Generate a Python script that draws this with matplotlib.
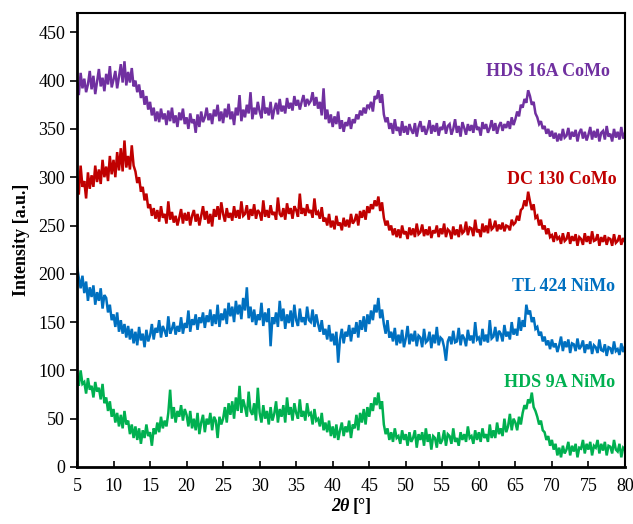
import numpy as np
import matplotlib.pyplot as plt

plt.rcParams['font.family'] = ['Liberation Serif', 'DejaVu Serif']

# 2-theta grid, 0.25 degree step from 5 to 80
two_theta = np.arange(5, 80.001, 0.25)

hds16a_como = [
    398, 385, 408, 392, 402, 388, 396, 410, 391, 405, 386, 399, 412, 394, 403, 389,
    407, 396, 415, 393, 401, 410, 392, 404, 417, 398, 420, 395, 409, 398, 413, 394,
    400, 388, 396, 382, 390, 375, 384, 370, 378, 364, 372, 358, 368, 357, 371, 360,
    366, 354, 369, 358, 372, 356, 364, 352, 367, 359, 371, 355, 362, 350, 366, 356,
    360, 346, 365, 352, 368, 357, 362, 372, 359, 366, 355, 370, 363, 375, 358, 368,
    356, 371, 362, 376, 360, 368, 354, 372, 364, 385, 358, 370, 362, 375, 366, 388,
    360, 372, 365, 378, 368, 361, 384, 366, 372, 364, 378, 360, 370, 377, 365, 381,
    368, 374, 366, 382, 371, 377, 369, 384, 374, 380, 370, 378, 385, 373, 381, 376,
    379, 388, 374, 383, 371, 378, 364, 392, 360, 370, 356, 365, 352, 363, 355, 368,
    350, 359, 347, 357, 353, 362, 350, 360, 356, 365, 360, 369, 364, 372, 366, 375,
    372, 378, 368, 384, 381, 390, 377, 386, 365, 357, 362, 350, 356, 345, 360, 348,
    352, 343, 358, 346, 353, 344, 355, 349, 345, 356, 342, 352, 358, 347, 353, 344,
    350, 359, 345, 354, 347, 356, 343, 352, 349, 358, 345, 353, 355, 344, 350, 360,
    346, 353, 342, 357, 351, 344, 355, 348, 354, 346, 360, 349, 352, 343, 357, 350,
    355, 346, 351, 359, 348, 356, 345, 353, 357, 348, 355, 351, 358, 350, 362, 354,
    360, 368, 363, 375, 372, 381, 377, 390, 384, 375, 378, 366, 362, 355, 358, 350,
    353, 345, 350, 342, 348, 340, 346, 337, 345, 338, 350, 341, 343, 351, 339, 347,
    342, 349, 337, 346, 350, 340, 347, 338, 344, 352, 339, 348, 341, 350, 337, 346,
    348, 339, 353, 342, 345, 337, 350, 341, 347, 339, 352, 340, 346,
]

dc130_como = [
    300, 282, 312, 290, 296, 278, 305, 288, 302, 290, 312, 295, 308, 293, 318, 300,
    311, 296, 322, 303, 318, 300, 326, 307, 330, 306, 338, 310, 322, 308, 333, 312,
    306, 294, 300, 285, 290, 276, 283, 268, 272, 260, 268, 257, 266, 254, 270, 258,
    262, 252, 275, 256, 264, 253, 260, 250, 258, 267, 252, 263, 255, 264, 250, 260,
    266, 254, 262, 250, 260, 270, 256, 265, 252, 262, 249, 267, 259, 270, 256, 274,
    262, 254, 268, 258, 263, 255, 270, 258, 266, 257, 275, 260, 262, 271, 256, 267,
    260, 272, 257, 266, 263, 255, 276, 259, 266, 258, 271, 261, 264, 256, 279, 262,
    259, 268, 256, 273, 262, 268, 257, 270, 266, 259, 283, 262, 268, 260, 272, 263,
    266, 258, 278, 261, 264, 257, 269, 254, 258, 250, 262, 248, 255, 246, 260, 250,
    253, 245, 258, 249, 256, 248, 262, 252, 255, 262, 250, 265, 258, 266, 256, 270,
    263, 272, 267, 276, 270, 280, 265, 274, 258, 250, 255, 245, 250, 240, 247, 238,
    246, 237, 250, 241, 244, 236, 248, 240, 247, 238, 252, 241, 243, 251, 239, 246,
    240, 249, 237, 245, 242, 250, 238, 247, 241, 252, 238, 246, 244, 236, 249, 240,
    246, 238, 251, 242, 244, 254, 240, 248, 247, 239, 256, 243, 246, 238, 252, 243,
    250, 242, 257, 246, 248, 255, 244, 251, 246, 253, 244, 250, 249, 245, 256, 251,
    253, 260, 255, 266, 268, 276, 270, 285, 275, 266, 272, 258, 260, 250, 256, 246,
    250, 241, 247, 238, 240, 233, 243, 236, 238, 231, 242, 234, 236, 243, 231, 239,
    234, 241, 229, 238, 236, 230, 242, 233, 239, 231, 244, 234, 235, 241, 229, 238,
    233, 240, 230, 237, 236, 229, 241, 232, 234, 240, 230, 237, 233,
]

tl424_nimo = [
    208, 196, 185, 198, 180, 192, 172, 186, 176, 188, 168, 181, 172, 185, 164, 178,
    175, 160, 168, 152, 158, 145, 160, 140, 152, 138, 148, 134, 146, 132, 143, 128,
    140, 126, 145, 131, 138, 124, 142, 130, 136, 148, 132, 144, 139, 152, 134, 146,
    141, 135, 156, 138, 143, 150, 137, 146, 140, 155, 138, 149, 144, 162, 140, 153,
    147, 158, 142, 155, 149, 160, 144, 157, 150, 163, 146, 158, 148, 168, 145, 159,
    152, 164, 148, 170, 156, 166, 150, 172, 158, 168, 153, 175, 162, 186, 154, 166,
    150, 163, 147, 158, 152, 170, 146, 160, 150, 164, 125, 155, 148, 160, 145, 172,
    151, 164, 143, 158, 149, 162, 145, 168, 152, 146, 164, 150, 155, 147, 166, 152,
    150, 163, 145, 158, 148, 140, 152, 137, 143, 132, 147, 130, 138, 126, 140, 108,
    132, 143, 128, 140, 135, 147, 130, 144, 138, 150, 134, 152, 142, 156, 140, 158,
    148, 162, 152, 168, 160, 175, 154, 163, 148, 138, 152, 134, 140, 130, 144, 126,
    137, 128, 142, 124, 133, 146, 127, 138, 130, 141, 125, 136, 134, 124, 143, 129,
    131, 140, 123, 137, 128, 145, 126, 134, 132, 124, 110, 130, 135, 127, 141, 129,
    130, 144, 126, 137, 133, 125, 142, 131, 136, 128, 150, 132, 134, 126, 143, 130,
    137, 129, 152, 133, 135, 145, 130, 141, 138, 130, 147, 135, 140, 132, 150, 137,
    143, 136, 155, 141, 152, 145, 168, 158, 162, 150, 155, 143, 145, 136, 140, 130,
    135, 126, 131, 122, 132, 124, 128, 119, 126, 135, 120, 130, 124, 132, 118, 128,
    127, 120, 133, 122, 125, 131, 118, 127, 122, 130, 117, 126, 124, 118, 132, 121,
    120, 127, 115, 124, 123, 117, 130, 120, 122, 116, 128, 119, 125,
]

hds9a_nimo = [
    96, 84, 100, 86, 88, 76, 92, 80, 84, 72, 88, 78, 82, 70, 86, 66,
    72, 58, 68, 52, 60, 46, 56, 42, 54, 40, 58, 44, 48, 34, 44, 30,
    42, 28, 40, 24, 38, 30, 44, 32, 36, 22, 40, 34, 46, 36, 52, 40,
    48, 42, 56, 80, 50, 62, 46, 58, 52, 64, 48, 60, 54, 42, 58, 40,
    50, 38, 56, 34, 46, 54, 36, 50, 44, 56, 38, 52, 48, 30, 52, 44,
    50, 62, 46, 66, 54, 68, 50, 72, 58, 84, 56, 70, 62, 52, 78, 58,
    54, 66, 48, 82, 56, 46, 64, 50, 58, 44, 62, 48, 55, 68, 46, 60,
    52, 64, 46, 72, 54, 62, 48, 66, 56, 50, 70, 52, 58, 48, 66, 54,
    56, 44, 60, 48, 50, 42, 56, 38, 46, 36, 48, 32, 42, 30, 44, 28,
    38, 46, 32, 42, 36, 48, 30, 44, 40, 54, 38, 56, 46, 60, 44, 62,
    52, 66, 58, 72, 64, 77, 60, 68, 44, 34, 40, 28, 36, 26, 40, 30,
    32, 24, 38, 28, 34, 22, 36, 26, 30, 38, 20, 34, 28, 36, 22, 40,
    26, 34, 18, 32, 30, 20, 36, 24, 28, 38, 22, 34, 32, 24, 40, 26,
    30, 22, 36, 28, 34, 26, 42, 30, 32, 24, 38, 28, 36, 26, 40, 30,
    34, 26, 44, 30, 38, 30, 46, 34, 40, 32, 50, 36, 42, 55, 38, 50,
    46, 38, 52, 44, 56, 64, 60, 70, 66, 77, 62, 58, 52, 44, 48, 38,
    36, 28, 32, 22, 28, 18, 24, 12, 20, 10, 22, 14, 18, 26, 12, 22,
    16, 24, 10, 20, 19, 28, 14, 24, 18, 26, 12, 22, 20, 28, 14, 24,
    17, 26, 12, 22, 21, 14, 28, 18, 16, 24, 10, 20, 18,
]

series_names = ['HDS 16A CoMo', 'DC 130 CoMo', 'TL 424 NiMo', 'HDS 9A NiMo']
series_data = [hds16a_como, dc130_como, tl424_nimo, hds9a_nimo]
series_colors = ['#7030A0', '#C00000', '#0070C0', '#00B050']
label_pos = [(77.9, 409), (78.9, 298), (78.6, 187), (78.6, 87)]


def main():
    fig = plt.figure(figsize=(6.33, 5.24), dpi=100)
    ax = fig.add_axes([0.1216, 0.1088, 0.8657, 0.8664])

    for name, data, color, (lx, ly) in zip(series_names, series_data, series_colors, label_pos):
        ax.plot(two_theta, data, color=color, linewidth=1.8, solid_joinstyle='miter')
        ax.text(lx, ly, name, color=color, fontsize=13, fontweight='bold',
                ha='right', va='center')

    ax.set_xlim(5, 80)
    ax.set_ylim(0, 470)
    ax.set_xticks(np.arange(5, 81, 5))
    ax.set_yticks(np.arange(0, 451, 50))
    ax.tick_params(axis='x', direction='in', length=4, width=1.2, labelsize=13, pad=8)
    ax.tick_params(axis='y', direction='out', length=5, width=1.2, labelsize=13)

    for side in ['left', 'bottom']:
        ax.spines[side].set_linewidth(2.0)
    for side in ['top', 'right']:
        ax.spines[side].set_linewidth(1.5)

    ax.set_ylabel('Intensity [a.u.]', fontsize=13, fontweight='bold', labelpad=6)

    # x label: italic bold 2-theta followed by bold unit
    ax.text(0.497, -0.087, '2θ', transform=ax.transAxes, fontsize=13,
            fontweight='bold', fontstyle='italic', ha='right', va='center')
    ax.text(0.503, -0.087, '[°]', transform=ax.transAxes, fontsize=13,
            fontweight='bold', ha='left', va='center')

    fig.savefig('out.png', dpi=100)


if __name__ == "__main__":
    main()
